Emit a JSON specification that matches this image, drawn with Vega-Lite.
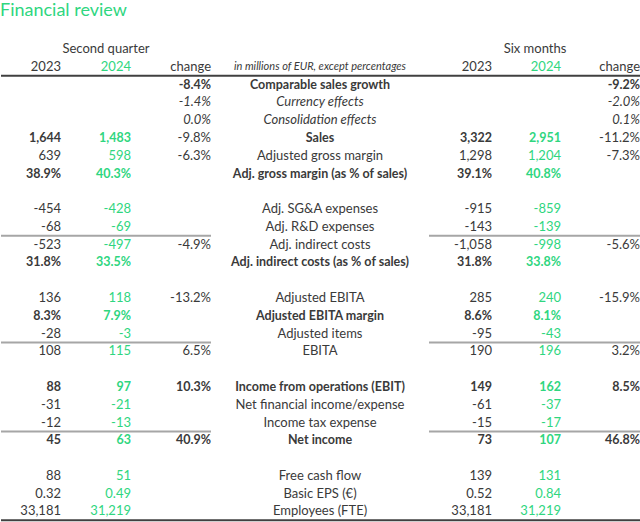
{
  "$schema": "https://vega.github.io/schema/vega-lite/v6.json",
  "padding": {"top": 2, "left": 0, "right": 0, "bottom": 0},
  "spacing": 0,
  "background": "white",
  "title": {"text": "Financial review", "anchor": "start", "fontSize": 18, "font": "Lato", "fontWeight": "normal", "color": "#2fd67f", "offset": 20},
  "config": {
    "view": {"stroke": null},
    "concat": {"spacing": 0},
    "text": {"font": "Lato", "fontSize": 13, "color": "#3a3a3a", "baseline": "middle"}
  },
  "datasets": {
    "cells": [
      {"row": "hdr1", "col": "Q", "text": "Second quarter"},
      {"row": "hdr1", "col": "H", "text": "Six months"},
      {"row": "hdr2", "col": "q23", "text": "2023"},
      {"row": "hdr2", "col": "q24", "text": "2024"},
      {"row": "hdr2", "col": "qch", "text": "change"},
      {"row": "hdr2", "col": "label", "text": "in millions of EUR, except percentages"},
      {"row": "hdr2", "col": "h23", "text": "2023"},
      {"row": "hdr2", "col": "h24", "text": "2024"},
      {"row": "hdr2", "col": "hch", "text": "change"},

      {"row": "Comparable sales growth", "col": "qch", "text": "-8.4%"},
      {"row": "Comparable sales growth", "col": "label", "text": "Comparable sales growth"},
      {"row": "Comparable sales growth", "col": "hch", "text": "-9.2%"},

      {"row": "Currency effects", "col": "qch", "text": "-1.4%"},
      {"row": "Currency effects", "col": "label", "text": "Currency effects"},
      {"row": "Currency effects", "col": "hch", "text": "-2.0%"},

      {"row": "Consolidation effects", "col": "qch", "text": "0.0%"},
      {"row": "Consolidation effects", "col": "label", "text": "Consolidation effects"},
      {"row": "Consolidation effects", "col": "hch", "text": "0.1%"},

      {"row": "Sales", "col": "q23", "text": "1,644"},
      {"row": "Sales", "col": "q24", "text": "1,483"},
      {"row": "Sales", "col": "qch", "text": "-9.8%"},
      {"row": "Sales", "col": "label", "text": "Sales"},
      {"row": "Sales", "col": "h23", "text": "3,322"},
      {"row": "Sales", "col": "h24", "text": "2,951"},
      {"row": "Sales", "col": "hch", "text": "-11.2%"},

      {"row": "Adjusted gross margin", "col": "q23", "text": "639"},
      {"row": "Adjusted gross margin", "col": "q24", "text": "598"},
      {"row": "Adjusted gross margin", "col": "qch", "text": "-6.3%"},
      {"row": "Adjusted gross margin", "col": "label", "text": "Adjusted gross margin"},
      {"row": "Adjusted gross margin", "col": "h23", "text": "1,298"},
      {"row": "Adjusted gross margin", "col": "h24", "text": "1,204"},
      {"row": "Adjusted gross margin", "col": "hch", "text": "-7.3%"},

      {"row": "Adj. gross margin (as % of sales)", "col": "q23", "text": "38.9%"},
      {"row": "Adj. gross margin (as % of sales)", "col": "q24", "text": "40.3%"},
      {"row": "Adj. gross margin (as % of sales)", "col": "label", "text": "Adj. gross margin (as % of sales)"},
      {"row": "Adj. gross margin (as % of sales)", "col": "h23", "text": "39.1%"},
      {"row": "Adj. gross margin (as % of sales)", "col": "h24", "text": "40.8%"},

      {"row": "Adj. SG&A expenses", "col": "q23", "text": "-454"},
      {"row": "Adj. SG&A expenses", "col": "q24", "text": "-428"},
      {"row": "Adj. SG&A expenses", "col": "label", "text": "Adj. SG&A expenses"},
      {"row": "Adj. SG&A expenses", "col": "h23", "text": "-915"},
      {"row": "Adj. SG&A expenses", "col": "h24", "text": "-859"},

      {"row": "Adj. R&D expenses", "col": "q23", "text": "-68"},
      {"row": "Adj. R&D expenses", "col": "q24", "text": "-69"},
      {"row": "Adj. R&D expenses", "col": "label", "text": "Adj. R&D expenses"},
      {"row": "Adj. R&D expenses", "col": "h23", "text": "-143"},
      {"row": "Adj. R&D expenses", "col": "h24", "text": "-139"},

      {"row": "Adj. indirect costs", "col": "q23", "text": "-523"},
      {"row": "Adj. indirect costs", "col": "q24", "text": "-497"},
      {"row": "Adj. indirect costs", "col": "qch", "text": "-4.9%"},
      {"row": "Adj. indirect costs", "col": "label", "text": "Adj. indirect costs"},
      {"row": "Adj. indirect costs", "col": "h23", "text": "-1,058"},
      {"row": "Adj. indirect costs", "col": "h24", "text": "-998"},
      {"row": "Adj. indirect costs", "col": "hch", "text": "-5.6%"},

      {"row": "Adj. indirect costs (as % of sales)", "col": "q23", "text": "31.8%"},
      {"row": "Adj. indirect costs (as % of sales)", "col": "q24", "text": "33.5%"},
      {"row": "Adj. indirect costs (as % of sales)", "col": "label", "text": "Adj. indirect costs (as % of sales)"},
      {"row": "Adj. indirect costs (as % of sales)", "col": "h23", "text": "31.8%"},
      {"row": "Adj. indirect costs (as % of sales)", "col": "h24", "text": "33.8%"},

      {"row": "Adjusted EBITA", "col": "q23", "text": "136"},
      {"row": "Adjusted EBITA", "col": "q24", "text": "118"},
      {"row": "Adjusted EBITA", "col": "qch", "text": "-13.2%"},
      {"row": "Adjusted EBITA", "col": "label", "text": "Adjusted EBITA"},
      {"row": "Adjusted EBITA", "col": "h23", "text": "285"},
      {"row": "Adjusted EBITA", "col": "h24", "text": "240"},
      {"row": "Adjusted EBITA", "col": "hch", "text": "-15.9%"},

      {"row": "Adjusted EBITA margin", "col": "q23", "text": "8.3%"},
      {"row": "Adjusted EBITA margin", "col": "q24", "text": "7.9%"},
      {"row": "Adjusted EBITA margin", "col": "label", "text": "Adjusted EBITA margin"},
      {"row": "Adjusted EBITA margin", "col": "h23", "text": "8.6%"},
      {"row": "Adjusted EBITA margin", "col": "h24", "text": "8.1%"},

      {"row": "Adjusted items", "col": "q23", "text": "-28"},
      {"row": "Adjusted items", "col": "q24", "text": "-3"},
      {"row": "Adjusted items", "col": "label", "text": "Adjusted items"},
      {"row": "Adjusted items", "col": "h23", "text": "-95"},
      {"row": "Adjusted items", "col": "h24", "text": "-43"},

      {"row": "EBITA", "col": "q23", "text": "108"},
      {"row": "EBITA", "col": "q24", "text": "115"},
      {"row": "EBITA", "col": "qch", "text": "6.5%"},
      {"row": "EBITA", "col": "label", "text": "EBITA"},
      {"row": "EBITA", "col": "h23", "text": "190"},
      {"row": "EBITA", "col": "h24", "text": "196"},
      {"row": "EBITA", "col": "hch", "text": "3.2%"},

      {"row": "Income from operations (EBIT)", "col": "q23", "text": "88"},
      {"row": "Income from operations (EBIT)", "col": "q24", "text": "97"},
      {"row": "Income from operations (EBIT)", "col": "qch", "text": "10.3%"},
      {"row": "Income from operations (EBIT)", "col": "label", "text": "Income from operations (EBIT)"},
      {"row": "Income from operations (EBIT)", "col": "h23", "text": "149"},
      {"row": "Income from operations (EBIT)", "col": "h24", "text": "162"},
      {"row": "Income from operations (EBIT)", "col": "hch", "text": "8.5%"},

      {"row": "Net financial income/expense", "col": "q23", "text": "-31"},
      {"row": "Net financial income/expense", "col": "q24", "text": "-21"},
      {"row": "Net financial income/expense", "col": "label", "text": "Net financial income/expense"},
      {"row": "Net financial income/expense", "col": "h23", "text": "-61"},
      {"row": "Net financial income/expense", "col": "h24", "text": "-37"},

      {"row": "Income tax expense", "col": "q23", "text": "-12"},
      {"row": "Income tax expense", "col": "q24", "text": "-13"},
      {"row": "Income tax expense", "col": "label", "text": "Income tax expense"},
      {"row": "Income tax expense", "col": "h23", "text": "-15"},
      {"row": "Income tax expense", "col": "h24", "text": "-17"},

      {"row": "Net income", "col": "q23", "text": "45"},
      {"row": "Net income", "col": "q24", "text": "63"},
      {"row": "Net income", "col": "qch", "text": "40.9%"},
      {"row": "Net income", "col": "label", "text": "Net income"},
      {"row": "Net income", "col": "h23", "text": "73"},
      {"row": "Net income", "col": "h24", "text": "107"},
      {"row": "Net income", "col": "hch", "text": "46.8%"},

      {"row": "Free cash flow", "col": "q23", "text": "88"},
      {"row": "Free cash flow", "col": "q24", "text": "51"},
      {"row": "Free cash flow", "col": "label", "text": "Free cash flow"},
      {"row": "Free cash flow", "col": "h23", "text": "139"},
      {"row": "Free cash flow", "col": "h24", "text": "131"},

      {"row": "Basic EPS (€)", "col": "q23", "text": "0.32"},
      {"row": "Basic EPS (€)", "col": "q24", "text": "0.49"},
      {"row": "Basic EPS (€)", "col": "label", "text": "Basic EPS (€)"},
      {"row": "Basic EPS (€)", "col": "h23", "text": "0.52"},
      {"row": "Basic EPS (€)", "col": "h24", "text": "0.84"},

      {"row": "Employees (FTE)", "col": "q23", "text": "33,181"},
      {"row": "Employees (FTE)", "col": "q24", "text": "31,219"},
      {"row": "Employees (FTE)", "col": "label", "text": "Employees (FTE)"},
      {"row": "Employees (FTE)", "col": "h23", "text": "33,181"},
      {"row": "Employees (FTE)", "col": "h24", "text": "31,219"}
    ],
    "lines": [
      {"row": "Comparable sales growth", "edge": "top", "kind": "total"},
      {"row": "Adj. indirect costs", "edge": "top", "kind": "subtotal"},
      {"row": "EBITA", "edge": "top", "kind": "subtotal"},
      {"row": "Net income", "edge": "top", "kind": "subtotal"},
      {"row": "Employees (FTE)", "edge": "bottom", "kind": "total"}
    ]
  },
  "vconcat": [
    {
      "width": 639,
      "height": 17.78,
      "data": {"name": "cells"},
      "transform": [{"filter": "datum.row === 'hdr1'"}],
      "mark": {"type": "text", "align": "center"},
      "encoding": {
        "x": {"field": "col", "type": "nominal", "scale": {"type": "point", "domain": ["Q", "H"], "range": [105, 534], "padding": 0}, "axis": null},
        "y": {"field": "row", "type": "nominal", "scale": {"type": "band", "domain": ["hdr1"], "paddingInner": 0, "paddingOuter": 0}, "axis": null},
        "text": {"field": "text"}
      }
    },
    {
      "spacing": 0,
      "bounds": "flush",
      "hconcat": [
        {
          "width": 60, "height": 462.3,
          "layer": [
            {"data": {"name": "cells"}, "transform": [{"filter": "datum.col === 'q23'"}],
             "mark": {"type": "text", "align": "right",
               "fontSize": {"expr": "indexof(['Comparable sales growth','Sales','Adj. gross margin (as % of sales)','Adj. indirect costs (as % of sales)','Adjusted EBITA margin','Income from operations (EBIT)','Net income'], datum.row) >= 0 ? 12.5 : 13"},
               "fontWeight": {"expr": "indexof(['Comparable sales growth','Sales','Adj. gross margin (as % of sales)','Adj. indirect costs (as % of sales)','Adjusted EBITA margin','Income from operations (EBIT)','Net income'], datum.row) >= 0 ? 'bold' : 'normal'"}},
             "encoding": {
               "x": {"field": "col", "type": "nominal", "scale": {"type": "point", "align": 1, "padding": 0}, "axis": null},
               "y": {"field": "row", "type": "nominal", "scale": {"type": "band", "paddingInner": 0, "paddingOuter": 0, "domain": ["hdr2","Comparable sales growth","Currency effects","Consolidation effects","Sales","Adjusted gross margin","Adj. gross margin (as % of sales)","b1","Adj. SG&A expenses","Adj. R&D expenses","Adj. indirect costs","Adj. indirect costs (as % of sales)","b2","Adjusted EBITA","Adjusted EBITA margin","Adjusted items","EBITA","b3","Income from operations (EBIT)","Net financial income/expense","Income tax expense","Net income","b4","Free cash flow","Basic EPS (€)","Employees (FTE)"]}, "axis": null},
               "text": {"field": "text"}
             }},
            {"data": {"name": "lines"}, "transform": [{"filter": "datum.edge === 'top'"}],
             "mark": {"type": "rule", "strokeWidth": 2},
             "encoding": {"y": {"field": "row", "type": "nominal", "bandPosition": 0}, "color": {"field": "kind", "type": "nominal", "scale": {"domain": ["total", "subtotal"], "range": ["#404040", "#a6a6a6"]}, "legend": null}}},
            {"data": {"name": "lines"}, "transform": [{"filter": "datum.edge === 'bottom'"}],
             "mark": {"type": "rule", "strokeWidth": 2},
             "encoding": {"y": {"field": "row", "type": "nominal", "bandPosition": 1}, "color": {"field": "kind", "type": "nominal", "legend": null}}}
          ]
        },
        {
          "width": 70, "height": 462.3,
          "layer": [
            {"data": {"name": "cells"}, "transform": [{"filter": "datum.col === 'q24'"}],
             "mark": {"type": "text", "align": "right", "color": "#2fd67f",
               "fontSize": {"expr": "indexof(['Comparable sales growth','Sales','Adj. gross margin (as % of sales)','Adj. indirect costs (as % of sales)','Adjusted EBITA margin','Income from operations (EBIT)','Net income'], datum.row) >= 0 ? 12.5 : 13"},
               "fontWeight": {"expr": "indexof(['Comparable sales growth','Sales','Adj. gross margin (as % of sales)','Adj. indirect costs (as % of sales)','Adjusted EBITA margin','Income from operations (EBIT)','Net income'], datum.row) >= 0 ? 'bold' : 'normal'"}},
             "encoding": {
               "x": {"field": "col", "type": "nominal", "scale": {"type": "point", "align": 1, "padding": 0}, "axis": null},
               "y": {"field": "row", "type": "nominal", "scale": {"type": "band", "paddingInner": 0, "paddingOuter": 0, "domain": ["hdr2","Comparable sales growth","Currency effects","Consolidation effects","Sales","Adjusted gross margin","Adj. gross margin (as % of sales)","b1","Adj. SG&A expenses","Adj. R&D expenses","Adj. indirect costs","Adj. indirect costs (as % of sales)","b2","Adjusted EBITA","Adjusted EBITA margin","Adjusted items","EBITA","b3","Income from operations (EBIT)","Net financial income/expense","Income tax expense","Net income","b4","Free cash flow","Basic EPS (€)","Employees (FTE)"]}, "axis": null},
               "text": {"field": "text"}
             }},
            {"data": {"name": "lines"}, "transform": [{"filter": "datum.edge === 'top'"}],
             "mark": {"type": "rule", "strokeWidth": 2},
             "encoding": {"y": {"field": "row", "type": "nominal", "bandPosition": 0}, "color": {"field": "kind", "type": "nominal", "scale": {"domain": ["total", "subtotal"], "range": ["#404040", "#a6a6a6"]}, "legend": null}}},
            {"data": {"name": "lines"}, "transform": [{"filter": "datum.edge === 'bottom'"}],
             "mark": {"type": "rule", "strokeWidth": 2},
             "encoding": {"y": {"field": "row", "type": "nominal", "bandPosition": 1}, "color": {"field": "kind", "type": "nominal", "legend": null}}}
          ]
        },
        {
          "width": 80, "height": 462.3,
          "layer": [
            {"data": {"name": "cells"}, "transform": [{"filter": "datum.col === 'qch'"}],
             "mark": {"type": "text", "align": "right",
               "fontSize": {"expr": "indexof(['Comparable sales growth','Adj. gross margin (as % of sales)','Adj. indirect costs (as % of sales)','Adjusted EBITA margin','Income from operations (EBIT)','Net income'], datum.row) >= 0 ? 12.5 : 13"},
               "fontWeight": {"expr": "indexof(['Comparable sales growth','Adj. gross margin (as % of sales)','Adj. indirect costs (as % of sales)','Adjusted EBITA margin','Income from operations (EBIT)','Net income'], datum.row) >= 0 ? 'bold' : 'normal'"},
               "fontStyle": {"expr": "indexof(['Currency effects','Consolidation effects'], datum.row) >= 0 ? 'italic' : 'normal'"}},
             "encoding": {
               "x": {"field": "col", "type": "nominal", "scale": {"type": "point", "align": 1, "padding": 0}, "axis": null},
               "y": {"field": "row", "type": "nominal", "scale": {"type": "band", "paddingInner": 0, "paddingOuter": 0, "domain": ["hdr2","Comparable sales growth","Currency effects","Consolidation effects","Sales","Adjusted gross margin","Adj. gross margin (as % of sales)","b1","Adj. SG&A expenses","Adj. R&D expenses","Adj. indirect costs","Adj. indirect costs (as % of sales)","b2","Adjusted EBITA","Adjusted EBITA margin","Adjusted items","EBITA","b3","Income from operations (EBIT)","Net financial income/expense","Income tax expense","Net income","b4","Free cash flow","Basic EPS (€)","Employees (FTE)"]}, "axis": null},
               "text": {"field": "text"}
             }},
            {"data": {"name": "lines"}, "transform": [{"filter": "datum.edge === 'top'"}],
             "mark": {"type": "rule", "strokeWidth": 2},
             "encoding": {"y": {"field": "row", "type": "nominal", "bandPosition": 0}, "color": {"field": "kind", "type": "nominal", "scale": {"domain": ["total", "subtotal"], "range": ["#404040", "#a6a6a6"]}, "legend": null}}},
            {"data": {"name": "lines"}, "transform": [{"filter": "datum.edge === 'bottom'"}],
             "mark": {"type": "rule", "strokeWidth": 2},
             "encoding": {"y": {"field": "row", "type": "nominal", "bandPosition": 1}, "color": {"field": "kind", "type": "nominal", "legend": null}}}
          ]
        },
        {
          "width": 218, "height": 462.3,
          "layer": [
            {"data": {"name": "cells"}, "transform": [{"filter": "datum.col === 'label'"}],
             "mark": {"type": "text", "align": "center",
               "fontSize": {"expr": "datum.row === 'hdr2' ? 11 : (indexof(['Comparable sales growth','Sales','Adj. gross margin (as % of sales)','Adj. indirect costs (as % of sales)','Adjusted EBITA margin','Income from operations (EBIT)','Net income'], datum.row) >= 0 ? 12.5 : 13)"},
               "fontWeight": {"expr": "indexof(['Comparable sales growth','Sales','Adj. gross margin (as % of sales)','Adj. indirect costs (as % of sales)','Adjusted EBITA margin','Income from operations (EBIT)','Net income'], datum.row) >= 0 ? 'bold' : 'normal'"},
               "fontStyle": {"expr": "indexof(['hdr2','Currency effects','Consolidation effects'], datum.row) >= 0 ? 'italic' : 'normal'"}},
             "encoding": {
               "x": {"field": "col", "type": "nominal", "scale": {"type": "point", "align": 0.5, "padding": 0}, "axis": null},
               "y": {"field": "row", "type": "nominal", "scale": {"type": "band", "paddingInner": 0, "paddingOuter": 0, "domain": ["hdr2","Comparable sales growth","Currency effects","Consolidation effects","Sales","Adjusted gross margin","Adj. gross margin (as % of sales)","b1","Adj. SG&A expenses","Adj. R&D expenses","Adj. indirect costs","Adj. indirect costs (as % of sales)","b2","Adjusted EBITA","Adjusted EBITA margin","Adjusted items","EBITA","b3","Income from operations (EBIT)","Net financial income/expense","Income tax expense","Net income","b4","Free cash flow","Basic EPS (€)","Employees (FTE)"]}, "axis": null},
               "text": {"field": "text"}
             }},
            {"data": {"name": "lines"}, "transform": [{"filter": "datum.edge === 'top' && datum.kind === 'total'"}],
             "mark": {"type": "rule", "strokeWidth": 2, "color": "#404040"},
             "encoding": {"y": {"field": "row", "type": "nominal", "bandPosition": 0}}},
            {"data": {"name": "lines"}, "transform": [{"filter": "datum.edge === 'bottom' && datum.kind === 'total'"}],
             "mark": {"type": "rule", "strokeWidth": 2, "color": "#404040"},
             "encoding": {"y": {"field": "row", "type": "nominal", "bandPosition": 1}}}
          ]
        },
        {
          "width": 63, "height": 462.3,
          "layer": [
            {"data": {"name": "cells"}, "transform": [{"filter": "datum.col === 'h23'"}],
             "mark": {"type": "text", "align": "right",
               "fontSize": {"expr": "indexof(['Comparable sales growth','Sales','Adj. gross margin (as % of sales)','Adj. indirect costs (as % of sales)','Adjusted EBITA margin','Income from operations (EBIT)','Net income'], datum.row) >= 0 ? 12.5 : 13"},
               "fontWeight": {"expr": "indexof(['Comparable sales growth','Sales','Adj. gross margin (as % of sales)','Adj. indirect costs (as % of sales)','Adjusted EBITA margin','Income from operations (EBIT)','Net income'], datum.row) >= 0 ? 'bold' : 'normal'"}},
             "encoding": {
               "x": {"field": "col", "type": "nominal", "scale": {"type": "point", "align": 1, "padding": 0}, "axis": null},
               "y": {"field": "row", "type": "nominal", "scale": {"type": "band", "paddingInner": 0, "paddingOuter": 0, "domain": ["hdr2","Comparable sales growth","Currency effects","Consolidation effects","Sales","Adjusted gross margin","Adj. gross margin (as % of sales)","b1","Adj. SG&A expenses","Adj. R&D expenses","Adj. indirect costs","Adj. indirect costs (as % of sales)","b2","Adjusted EBITA","Adjusted EBITA margin","Adjusted items","EBITA","b3","Income from operations (EBIT)","Net financial income/expense","Income tax expense","Net income","b4","Free cash flow","Basic EPS (€)","Employees (FTE)"]}, "axis": null},
               "text": {"field": "text"}
             }},
            {"data": {"name": "lines"}, "transform": [{"filter": "datum.edge === 'top'"}],
             "mark": {"type": "rule", "strokeWidth": 2},
             "encoding": {"y": {"field": "row", "type": "nominal", "bandPosition": 0}, "color": {"field": "kind", "type": "nominal", "scale": {"domain": ["total", "subtotal"], "range": ["#404040", "#a6a6a6"]}, "legend": null}}},
            {"data": {"name": "lines"}, "transform": [{"filter": "datum.edge === 'bottom'"}],
             "mark": {"type": "rule", "strokeWidth": 2},
             "encoding": {"y": {"field": "row", "type": "nominal", "bandPosition": 1}, "color": {"field": "kind", "type": "nominal", "legend": null}}}
          ]
        },
        {
          "width": 69, "height": 462.3,
          "layer": [
            {"data": {"name": "cells"}, "transform": [{"filter": "datum.col === 'h24'"}],
             "mark": {"type": "text", "align": "right", "color": "#2fd67f",
               "fontSize": {"expr": "indexof(['Comparable sales growth','Sales','Adj. gross margin (as % of sales)','Adj. indirect costs (as % of sales)','Adjusted EBITA margin','Income from operations (EBIT)','Net income'], datum.row) >= 0 ? 12.5 : 13"},
               "fontWeight": {"expr": "indexof(['Comparable sales growth','Sales','Adj. gross margin (as % of sales)','Adj. indirect costs (as % of sales)','Adjusted EBITA margin','Income from operations (EBIT)','Net income'], datum.row) >= 0 ? 'bold' : 'normal'"}},
             "encoding": {
               "x": {"field": "col", "type": "nominal", "scale": {"type": "point", "align": 1, "padding": 0}, "axis": null},
               "y": {"field": "row", "type": "nominal", "scale": {"type": "band", "paddingInner": 0, "paddingOuter": 0, "domain": ["hdr2","Comparable sales growth","Currency effects","Consolidation effects","Sales","Adjusted gross margin","Adj. gross margin (as % of sales)","b1","Adj. SG&A expenses","Adj. R&D expenses","Adj. indirect costs","Adj. indirect costs (as % of sales)","b2","Adjusted EBITA","Adjusted EBITA margin","Adjusted items","EBITA","b3","Income from operations (EBIT)","Net financial income/expense","Income tax expense","Net income","b4","Free cash flow","Basic EPS (€)","Employees (FTE)"]}, "axis": null},
               "text": {"field": "text"}
             }},
            {"data": {"name": "lines"}, "transform": [{"filter": "datum.edge === 'top'"}],
             "mark": {"type": "rule", "strokeWidth": 2},
             "encoding": {"y": {"field": "row", "type": "nominal", "bandPosition": 0}, "color": {"field": "kind", "type": "nominal", "scale": {"domain": ["total", "subtotal"], "range": ["#404040", "#a6a6a6"]}, "legend": null}}},
            {"data": {"name": "lines"}, "transform": [{"filter": "datum.edge === 'bottom'"}],
             "mark": {"type": "rule", "strokeWidth": 2},
             "encoding": {"y": {"field": "row", "type": "nominal", "bandPosition": 1}, "color": {"field": "kind", "type": "nominal", "legend": null}}}
          ]
        },
        {
          "width": 79, "height": 462.3,
          "layer": [
            {"data": {"name": "cells"}, "transform": [{"filter": "datum.col === 'hch'"}],
             "mark": {"type": "text", "align": "right",
               "fontSize": {"expr": "indexof(['Comparable sales growth','Adj. gross margin (as % of sales)','Adj. indirect costs (as % of sales)','Adjusted EBITA margin','Income from operations (EBIT)','Net income'], datum.row) >= 0 ? 12.5 : 13"},
               "fontWeight": {"expr": "indexof(['Comparable sales growth','Adj. gross margin (as % of sales)','Adj. indirect costs (as % of sales)','Adjusted EBITA margin','Income from operations (EBIT)','Net income'], datum.row) >= 0 ? 'bold' : 'normal'"},
               "fontStyle": {"expr": "indexof(['Currency effects','Consolidation effects'], datum.row) >= 0 ? 'italic' : 'normal'"}},
             "encoding": {
               "x": {"field": "col", "type": "nominal", "scale": {"type": "point", "align": 1, "padding": 0}, "axis": null},
               "y": {"field": "row", "type": "nominal", "scale": {"type": "band", "paddingInner": 0, "paddingOuter": 0, "domain": ["hdr2","Comparable sales growth","Currency effects","Consolidation effects","Sales","Adjusted gross margin","Adj. gross margin (as % of sales)","b1","Adj. SG&A expenses","Adj. R&D expenses","Adj. indirect costs","Adj. indirect costs (as % of sales)","b2","Adjusted EBITA","Adjusted EBITA margin","Adjusted items","EBITA","b3","Income from operations (EBIT)","Net financial income/expense","Income tax expense","Net income","b4","Free cash flow","Basic EPS (€)","Employees (FTE)"]}, "axis": null},
               "text": {"field": "text"}
             }},
            {"data": {"name": "lines"}, "transform": [{"filter": "datum.edge === 'top'"}],
             "mark": {"type": "rule", "strokeWidth": 2},
             "encoding": {"y": {"field": "row", "type": "nominal", "bandPosition": 0}, "color": {"field": "kind", "type": "nominal", "scale": {"domain": ["total", "subtotal"], "range": ["#404040", "#a6a6a6"]}, "legend": null}}},
            {"data": {"name": "lines"}, "transform": [{"filter": "datum.edge === 'bottom'"}],
             "mark": {"type": "rule", "strokeWidth": 2},
             "encoding": {"y": {"field": "row", "type": "nominal", "bandPosition": 1}, "color": {"field": "kind", "type": "nominal", "legend": null}}}
          ]
        }
      ]
    }
  ]
}
